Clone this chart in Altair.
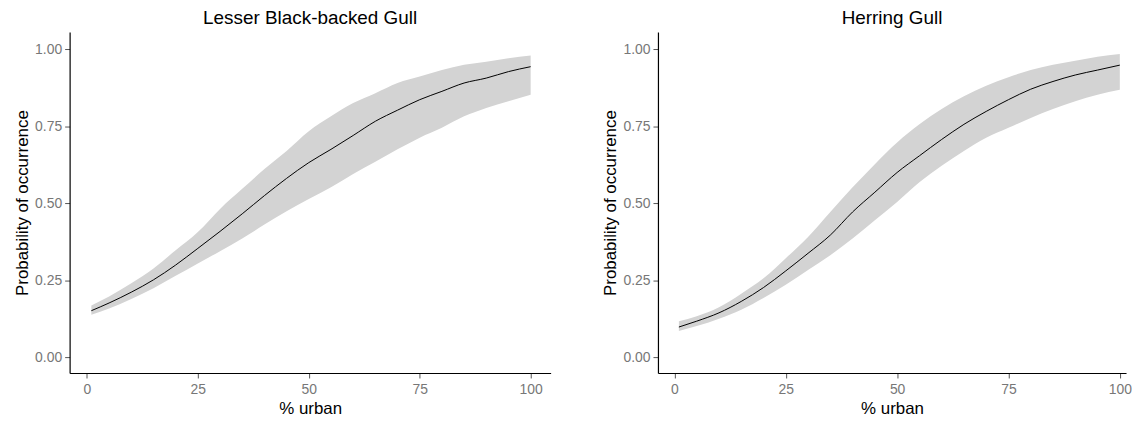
import altair as alt
import pandas as pd

x_vals = [1, 5, 10, 15, 20, 25, 30, 35, 40, 45, 50, 55, 60, 65, 70, 75, 80, 85, 90, 95, 100]

lbbg_mean = [0.152, 0.177, 0.212, 0.252, 0.300, 0.354, 0.409, 0.466, 0.525, 0.581, 0.632,
             0.675, 0.720, 0.766, 0.802, 0.836, 0.863, 0.890, 0.906, 0.927, 0.943]
lbbg_hi = [0.169, 0.198, 0.241, 0.289, 0.348, 0.407, 0.482, 0.547, 0.611, 0.670, 0.734,
           0.782, 0.825, 0.857, 0.890, 0.911, 0.932, 0.949, 0.959, 0.970, 0.979]
lbbg_lo = [0.139, 0.159, 0.190, 0.225, 0.265, 0.305, 0.345, 0.386, 0.431, 0.474, 0.514,
           0.552, 0.595, 0.635, 0.675, 0.713, 0.745, 0.782, 0.809, 0.831, 0.852]

hg_mean = [0.099, 0.118, 0.145, 0.182, 0.227, 0.281, 0.338, 0.397, 0.472, 0.536, 0.600,
           0.654, 0.707, 0.756, 0.798, 0.836, 0.870, 0.895, 0.916, 0.932, 0.948]
hg_hi = [0.118, 0.134, 0.163, 0.207, 0.257, 0.322, 0.391, 0.472, 0.552, 0.627, 0.697,
         0.756, 0.806, 0.847, 0.881, 0.909, 0.932, 0.949, 0.962, 0.975, 0.984]
hg_lo = [0.086, 0.102, 0.126, 0.155, 0.193, 0.236, 0.284, 0.332, 0.386, 0.445, 0.504,
         0.568, 0.622, 0.670, 0.713, 0.745, 0.777, 0.806, 0.831, 0.852, 0.868]

species = ["Lesser Black-backed Gull", "Herring Gull"]
x_ticks = [0, 25, 50, 75, 100]
y_ticks = [0, 0.25, 0.5, 0.75, 1.0]

frames = []
for sp, m, lo, hi in [(species[0], lbbg_mean, lbbg_lo, lbbg_hi),
                      (species[1], hg_mean, hg_lo, hg_hi)]:
    frames.append(pd.DataFrame({"species": sp, "urban": x_vals, "mean": m, "lo": lo, "hi": hi}))
df = pd.concat(frames, ignore_index=True)

FONT = "Liberation Sans"


def panel(sp, width, xdomain):
    base = alt.Chart(df[df["species"] == sp])
    xenc = alt.X("urban:Q", title="% urban",
                 scale=alt.Scale(domain=xdomain, nice=False, zero=False),
                 axis=alt.Axis(values=x_ticks, format="d"))
    band = base.mark_area(color="#d3d3d3", opacity=1, interpolate="monotone").encode(
        x=xenc,
        y=alt.Y("lo:Q", title="Probability of occurrence",
                scale=alt.Scale(domain=[-0.05, 1.055], nice=False, zero=False),
                axis=alt.Axis(values=y_ticks, format=".2f")),
        y2="hi:Q",
    )
    line = base.mark_line(color="black", strokeWidth=1, interpolate="monotone").encode(
        x=xenc,
        y=alt.Y("mean:Q"),
    )
    return alt.layer(band, line).properties(
        width=width, height=343,
        title=alt.TitleParams(sp, fontSize=19, font=FONT, fontWeight="normal",
                              color="black", anchor="middle", offset=4),
    )


chart = alt.hconcat(
    panel(species[0], 484, [-3.9, 104.5]),
    panel(species[1], 471, [-3.7, 101.4]),
    spacing=51,
).properties(
    padding={"left": 5, "top": 0, "right": 0, "bottom": 0}
).configure_view(stroke=None).configure_axis(
    grid=False,
    domainColor="black",
    domainWidth=1.2,
    tickColor="#555555",
    tickSize=5,
    labelColor="#777777",
    labelFont=FONT,
    labelFontSize=14,
    labelPadding=3,
    titleFont=FONT,
    titleFontSize=17,
    titleFontWeight="normal",
    titleColor="black",
).configure_axisY(titlePadding=3).configure_axisX(titlePadding=4, labelPadding=5)

chart.save("out.html", embed_options={"renderer": "svg", "actions": False})
